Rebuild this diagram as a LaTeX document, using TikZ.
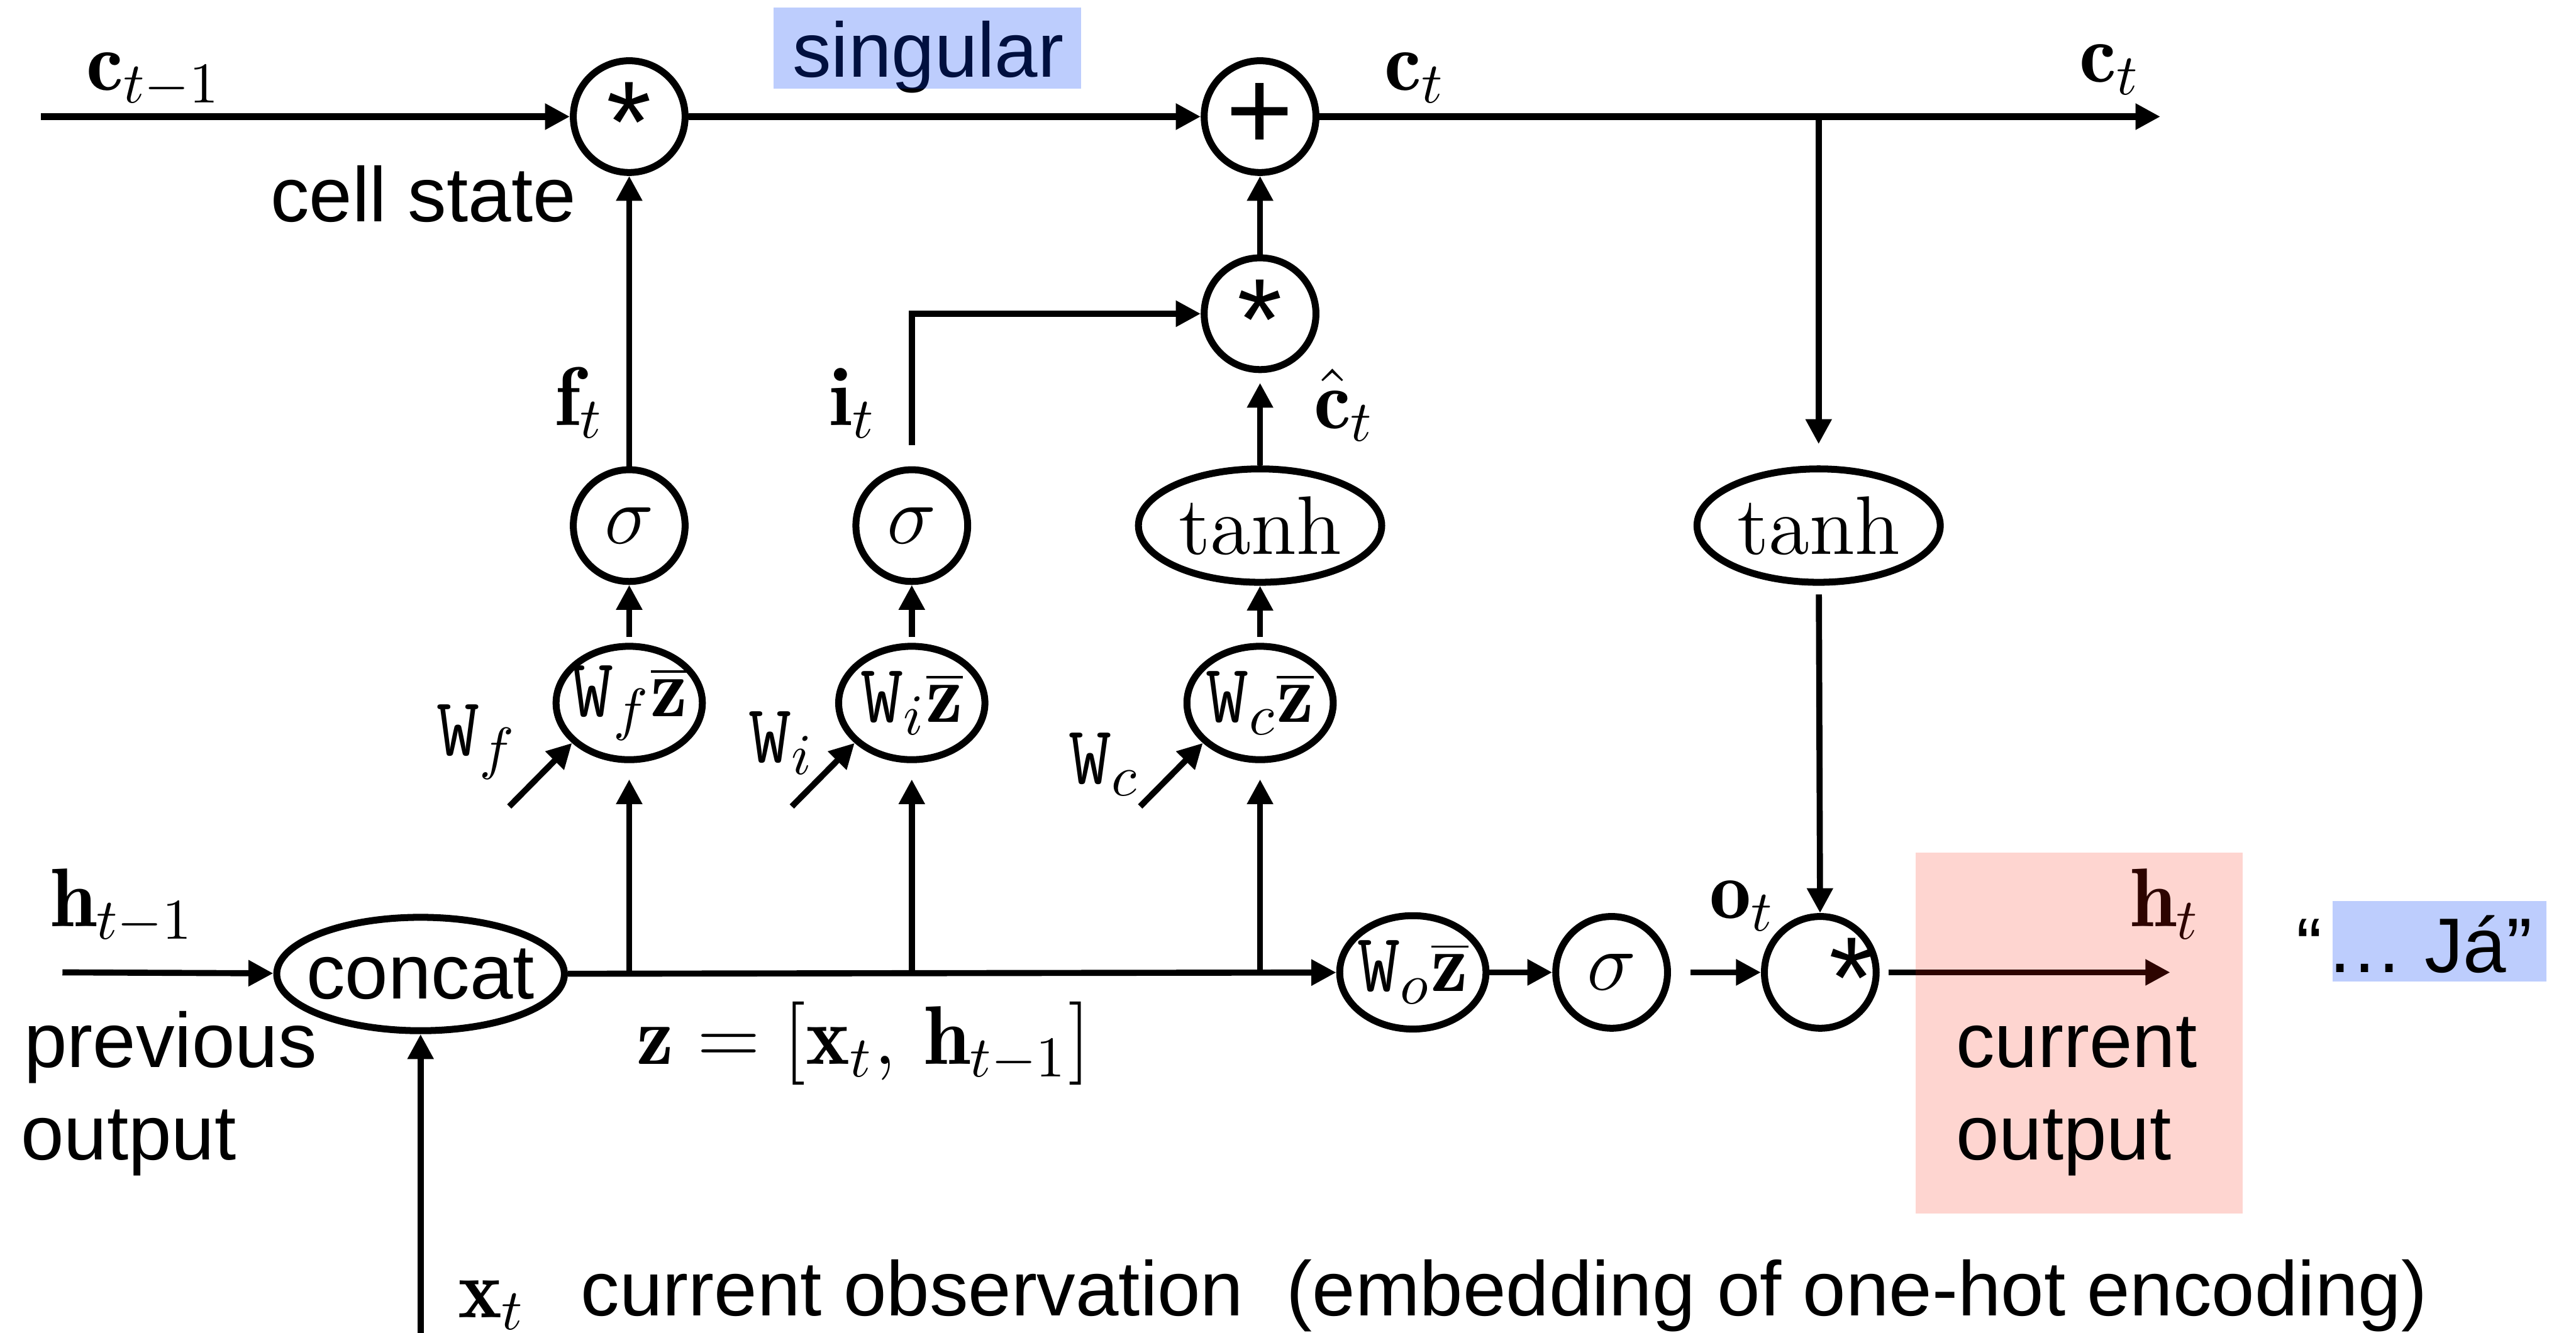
\documentclass[tikz,border=0pt]{standalone}
\usepackage{fontspec}
\setsansfont{Liberation Sans}
\usetikzlibrary{arrows.meta,shapes.geometric,calc}
\definecolor{bluebox}{RGB}{0,62,246}
\definecolor{pinkbox}{RGB}{249,27,0}
\newcommand\mfs{\fontsize{14.4}{17}\selectfont}
\newcommand\sfs{\fontsize{13.4}{16}\selectfont\sffamily}
\begin{document}
\begin{tikzpicture}[x=0.01cm,y=-0.01cm,
  arr/.style={-{Triangle[length=4.3pt,width=4.3pt]}, line width=1.05pt},
  thick arr/.style={arr, line width=1.25pt},
  op/.style={circle, draw, line width=1.2pt, minimum size=0.68cm, inner sep=0pt, font=\mfs},
  oval/.style={ellipse, draw, line width=1.2pt, inner sep=0pt},
  wz/.style={oval, minimum width=0.89cm, minimum height=0.69cm},
  act/.style={oval, minimum width=1.48cm, minimum height=0.69cm},
  mtxt/.style={font=\mfs, inner sep=0pt},
  stxt/.style={font=\sfs, inner sep=0pt},
  startxt/.style={font=\fontsize{20}{20}\selectfont\sffamily, inner sep=0pt, yshift=-0.035cm},
  plustxt/.style={font=\fontsize{20}{20}\selectfont\sffamily, inner sep=0pt},
]
\useasboundingbox (0,0) rectangle (1568,811.4);

% ---------- nodes ----------
\coordinate (cin) at (25,71);
\node[op, label={[startxt]center:*}] (m1) at (383,71) {};
\node[op, label={[plustxt]center:+}] (pl) at (767,71) {};
\coordinate (cout) at (1315,71);
\coordinate (br) at (1107,71);

\node[op, label={[startxt]center:*}] (m2) at (767,191) {};

\node[op] (sf) at (383,320) {$\sigma$};
\node[op] (si) at (555,320) {$\sigma$};
\node[act, label={[mtxt]center:$\tanh$}] (tc) at (767,320) {};
\node[act, label={[mtxt]center:$\tanh$}] (to) at (1107,320) {};

\node[wz, label={[mtxt]center:$\mathtt{W}_f\overline{\mathbf{z}}$}] (wf) at (383,428) {};
\node[wz, label={[mtxt]center:$\mathtt{W}_i\overline{\mathbf{z}}$}] (wi) at (555,428) {};
\node[wz, label={[mtxt]center:$\mathtt{W}_c\overline{\mathbf{z}}$}] (wc) at (767,428) {};

\coordinate (wfin) at (310,491);
\coordinate (wiin) at (482,491);
\coordinate (wcin) at (694,491);

\node[oval, minimum width=1.75cm, minimum height=0.69cm, label={[stxt]center:concat}] (cc) at (256,593) {};
\coordinate (hin) at (38,592);
\coordinate (xin) at (256,811.4);
\coordinate (bf) at (383,592);
\coordinate (bi) at (555,592);
\coordinate (bc) at (767,592);

\node[wz, label={[mtxt]center:$\mathtt{W}_o\overline{\mathbf{z}}$}] (wo) at (860,592) {};
\node[op] (so) at (981,592) {$\sigma$};
\node[op, label={[startxt, xshift=0.19cm]center:*}] (m3) at (1108,592) {};
\coordinate (hout) at (1321,592);

% ---------- connectors ----------
\draw[thick arr] (cin) -- (m1);
\draw[thick arr] (m1) -- (pl);
\draw[thick arr] (pl) -- (cout);
\draw[arr, shorten >=3.7pt] (br) -- (to);

\draw[arr] (sf) -- (m1);
\draw[arr, shorten <=3.7pt] (si) |- (m2);
\draw[arr, shorten >=1.7pt] (tc) -- (m2);
\draw[arr] (m2) -- (pl);

\draw[arr, shorten <=1pt] (wf) -- (sf);
\draw[arr, shorten <=1pt] (wi) -- (si);
\draw[arr, shorten <=1pt] (wc) -- (tc);

\draw[arr, shorten >=2.8pt] (bf) -- (wf);
\draw[arr, shorten >=2.8pt] (bi) -- (wi);
\draw[arr, shorten >=2.8pt] (bc) -- (wc);

\draw[arr] (wfin) -- (wf.215);
\draw[arr] (wiin) -- (wi.215);
\draw[arr] (wcin) -- (wc.215);

\draw[arr] (hin) -- (cc);
\draw[arr] (xin) -- (cc);
\draw[arr] (cc) -- (wo);
\draw[arr] (wo) -- (so);
\draw[arr, shorten <=3.4pt] (so) -- (m3);
\draw[arr, shorten <=1.5pt] (to) -- (m3);
\draw[arr, shorten <=1.5pt] (m3) -- (hout);

% ---------- labels ----------
\node[mtxt, anchor=base west] (lct1) at (52,55) {$\mathbf{c}_{t-1}$};
\node[mtxt, anchor=base west] (lct) at (842,55) {$\mathbf{c}_t$};
\node[mtxt, anchor=base west] (lct2) at (1265,50) {$\mathbf{c}_t$};
\node[stxt, anchor=base west] (lcs) at (164,135) {cell state};
\node[stxt, anchor=base] (lsing) at (565,47) {singular};
\fill[bluebox, opacity=0.26] (471,4.5) rectangle (658,54);

\node[mtxt, anchor=base west] (lft) at (337,259) {$\mathbf{f}_t$};
\node[mtxt, anchor=base west] (lit) at (504,259) {$\mathbf{i}_t$};
\node[mtxt, anchor=base west] (lchat) at (799,261) {$\hat{\mathbf{c}}_t$};

\node[mtxt, anchor=base west] (lwf) at (265,460) {$\mathtt{W}_f$};
\node[mtxt, anchor=base west] (lwi) at (455,464) {$\mathtt{W}_i$};
\node[mtxt, anchor=base west] (lwc) at (650,477) {$\mathtt{W}_c$};

\node[mtxt, anchor=base west] (lht1) at (30,564) {$\mathbf{h}_{t-1}$};
\node[stxt, anchor=base west] (lprev) at (14,650) {previous};
\node[stxt, anchor=base west] (lpout) at (12,706) {output};
\node[mtxt, anchor=base west] (lz) at (387,648) {$\mathbf{z}=[\mathbf{x}_t,\,\mathbf{h}_{t-1}]$};
\node[mtxt, anchor=base west] (lxt) at (278,802) {$\mathbf{x}_t$};
\node[stxt, anchor=base west] (lobs) at (353,801) {current observation\ \ (embedding of one-hot encoding)};

\node[mtxt, anchor=base west] (lot) at (1040,559) {$\mathbf{o}_t$};
\node[mtxt, anchor=base west] (lht) at (1296,564) {$\mathbf{h}_t$};
\fill[pinkbox, opacity=0.185] (1166,519) rectangle (1365,739);
\node[stxt, anchor=base west] (lcur) at (1190,650) {current};
\node[stxt, anchor=base west] (lcout) at (1190,706) {output};

\fill[bluebox, opacity=0.26] (1420,548.5) rectangle (1550,597.6);
\node[stxt, anchor=base west] (lq) at (1397,592) {“};
\node[stxt, anchor=base west] (lja) at (1415,592) {… Já”};
\end{tikzpicture}
\end{document}
